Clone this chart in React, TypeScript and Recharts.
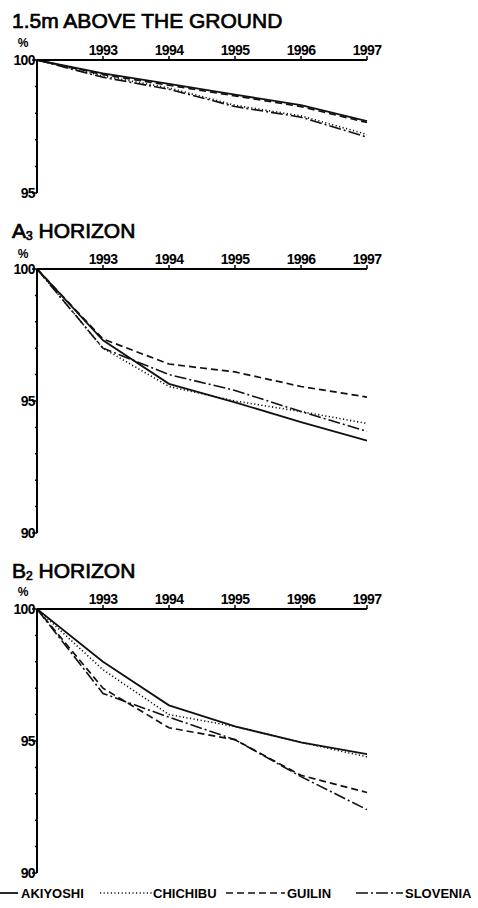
import { LineChart, Line, XAxis, YAxis } from 'recharts'

const years = [1992, 1993, 1994, 1995, 1996, 1997]
const yearTicks = [1993, 1994, 1995, 1996, 1997]

// 1.5m above the ground (%)
const airAkiyoshi = [100, 99.5, 99.1, 98.7, 98.3, 97.7]
const airChichibu = [100, 99.4, 98.95, 98.3, 97.9, 97.2]
const airGuilin = [100, 99.45, 99.05, 98.65, 98.25, 97.65]
const airSlovenia = [100, 99.35, 98.9, 98.25, 97.85, 97.1]

// A3 horizon (%)
const a3Akiyoshi = [100, 97.3, 95.65, 94.95, 94.2, 93.5]
const a3Chichibu = [100, 97.0, 95.55, 95.0, 94.6, 94.15]
const a3Guilin = [100, 97.35, 96.4, 96.1, 95.55, 95.15]
const a3Slovenia = [100, 97.0, 96.0, 95.4, 94.6, 93.85]

// B2 horizon (%)
const b2Akiyoshi = [100, 98.0, 96.35, 95.55, 94.95, 94.5]
const b2Chichibu = [100, 97.7, 96.0, 95.55, 94.95, 94.4]
const b2Guilin = [100, 97.0, 95.5, 95.05, 93.7, 93.05]
const b2Slovenia = [100, 96.8, 95.9, 95.05, 93.65, 92.4]

const ticksShallow = [95, 96, 97, 98, 99, 100]
const ticksDeep = [90, 91, 92, 93, 94, 95, 96, 97, 98, 99, 100]

const seriesNames = ['AKIYOSHI', 'CHICHIBU', 'GUILIN', 'SLOVENIA']
const seriesKeys = ['akiyoshi', 'chichibu', 'guilin', 'slovenia']

const lineStyles: Record<string, { dash?: string; width: number }> = {
    akiyoshi: { width: 1.8 },
    chichibu: { dash: '1.2 2.4', width: 1.6 },
    guilin: { dash: '7 4', width: 1.7 },
    slovenia: { dash: '12 3 2 3', width: 1.6 },
}

const build = (a: number[], c: number[], g: number[], s: number[]) =>
    years.map((year, i) => ({ year, akiyoshi: a[i], chichibu: c[i], guilin: g[i], slovenia: s[i] }))

const font = '"Liberation Sans", Arial, Helvetica, sans-serif'

const YTick = ({ x, y, payload }: any) => {
    const major = payload.value % 5 === 0
    return (
        <g>
            <line x1={x - (major ? 5 : 2)} x2={x} y1={y} y2={y} stroke="#000" strokeWidth={1.5} />
            {major && (
                <text x={x - 2} y={y} dy={5} textAnchor="end" fontSize={14} fontWeight="bold" fill="#000" fontFamily={font} letterSpacing={-0.6}>
                    {payload.value}
                </text>
            )}
        </g>
    )
}

interface PanelProps {
    top: number
    plotHeight: number
    domain: [number, number]
    ticks: number[]
    data: any[]
}

function Panel({ top, plotHeight, domain, ticks, data }: PanelProps) {
    const height = 30 + plotHeight + 10
    return (
        <div style={{ position: 'absolute', left: 0, top }}>
            <LineChart width={478} height={height} data={data} margin={{ top: 0, right: 111, bottom: 10, left: 0 }}>
                <XAxis
                    dataKey="year"
                    type="number"
                    orientation="top"
                    domain={[1992, 1997]}
                    ticks={yearTicks}
                    interval={0}
                    height={30}
                    tickSize={4}
                    tickMargin={1}
                    axisLine={{ stroke: '#000', strokeWidth: 2 }}
                    tickLine={{ stroke: '#000', strokeWidth: 1.5 }}
                    tick={{ fontSize: 14, fontWeight: 'bold', fill: '#000', fontFamily: font, letterSpacing: -0.6 }}
                />
                <YAxis
                    type="number"
                    domain={domain}
                    ticks={ticks}
                    interval={0}
                    width={37}
                    tickSize={0}
                    tickMargin={0}
                    tickLine={false}
                    tick={<YTick />}
                    axisLine={{ stroke: '#000', strokeWidth: 2 }}
                    allowDataOverflow
                />
                {seriesKeys.map((key) => (
                    <Line
                        key={key}
                        type="linear"
                        dataKey={key}
                        stroke="#111"
                        strokeWidth={lineStyles[key].width}
                        strokeDasharray={lineStyles[key].dash}
                        dot={false}
                        isAnimationActive={false}
                    />
                ))}
            </LineChart>
        </div>
    )
}

const titleStyle = { fontSize: 21, fill: '#000', fontFamily: font, stroke: '#000', strokeWidth: 0.7 }

export default function App() {
    const legendItems = [
        { x1: 0, x2: 18, tx: 21 },
        { x1: 100, x2: 152, tx: 153 },
        { x1: 226, x2: 285, tx: 287 },
        { x1: 356, x2: 403, tx: 405 },
    ]
    return (
        <div style={{ position: 'absolute', left: 0, top: 0, width: 478, height: 908, background: '#fff' }}>
            <Panel top={30} plotHeight={133} domain={[95, 100]} ticks={ticksShallow} data={build(airAkiyoshi, airChichibu, airGuilin, airSlovenia)} />
            <Panel top={239} plotHeight={264} domain={[90, 100]} ticks={ticksDeep} data={build(a3Akiyoshi, a3Chichibu, a3Guilin, a3Slovenia)} />
            <Panel top={579} plotHeight={264} domain={[90, 100]} ticks={ticksDeep} data={build(b2Akiyoshi, b2Chichibu, b2Guilin, b2Slovenia)} />
            <svg width={478} height={908} style={{ position: 'absolute', left: 0, top: 0, pointerEvents: 'none' }}>
                <text x={12} y={28} {...titleStyle}>1.5m ABOVE THE GROUND</text>
                <text x={12} y={238} {...titleStyle}>
                    A<tspan fontSize={12} dy={2}>3</tspan>
                    <tspan dy={-2}> HORIZON</tspan>
                </text>
                <text x={12} y={578} {...titleStyle}>
                    B<tspan fontSize={12} dy={2}>2</tspan>
                    <tspan dy={-2}> HORIZON</tspan>
                </text>
                {[47, 258, 596].map((y) => (
                    <text key={y} x={23} y={y} textAnchor="middle" fontSize={12} fontWeight="bold" fontFamily={font} fill="#000">%</text>
                ))}
                {legendItems.map((item, i) => (
                    <g key={seriesNames[i]}>
                        <line
                            x1={item.x1}
                            x2={item.x2}
                            y1={893}
                            y2={893}
                            stroke="#111"
                            strokeWidth={lineStyles[seriesKeys[i]].width}
                            strokeDasharray={lineStyles[seriesKeys[i]].dash}
                        />
                        <text x={item.tx} y={898} fontSize={13} fontWeight="bold" fontFamily={font} fill="#000">
                            {seriesNames[i]}
                        </text>
                    </g>
                ))}
            </svg>
        </div>
    )
}
